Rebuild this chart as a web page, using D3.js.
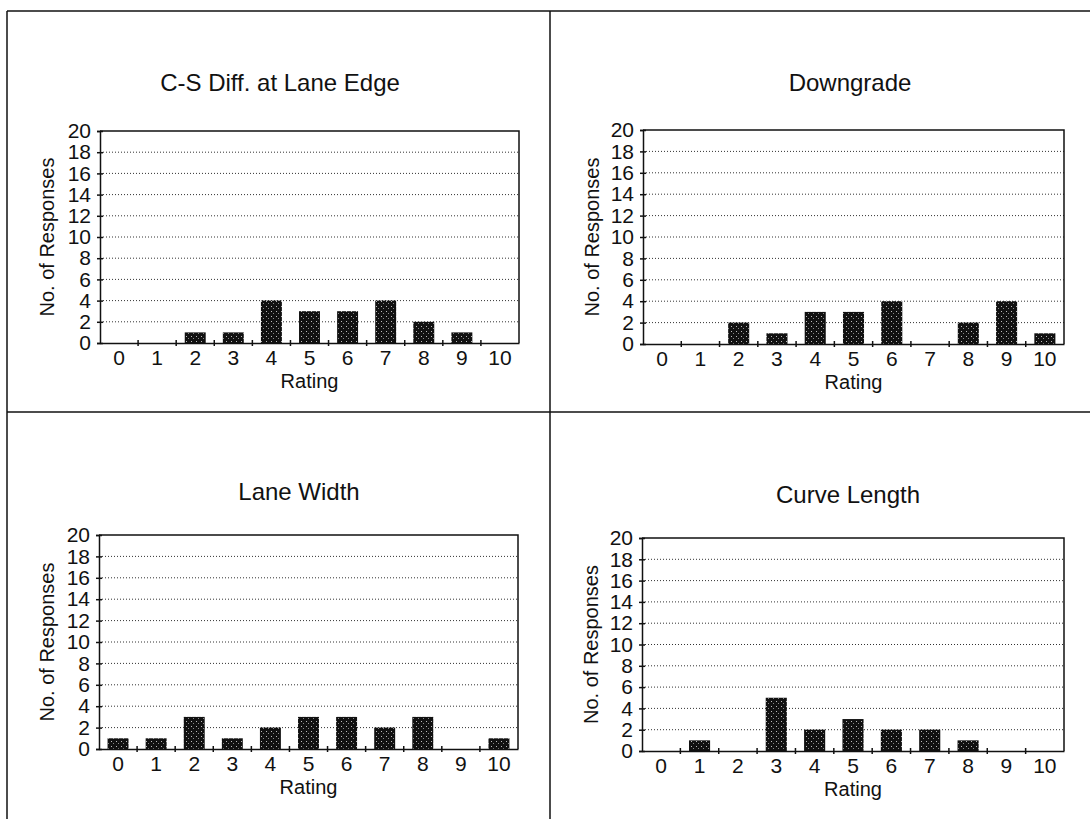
<!DOCTYPE html>
<html>
<head>
<meta charset="utf-8">
<script src="https://cdn.jsdelivr.net/npm/d3@7"></script>
<style>
  body { margin: 0; background: #fff; }
  text { font-family: "Liberation Sans", Arial, sans-serif; fill: #111; }
</style>
</head>
<body>
<script>
// data
var ratings = [0,1,2,3,4,5,6,7,8,9,10];
var yTicks = [0,2,4,6,8,10,12,14,16,18,20];
var titles = ["C-S Diff. at Lane Edge", "Downgrade", "Lane Width", "Curve Length"];
var csDiff = [0,0,1,1,4,3,3,4,2,1,0];
var downgrade = [0,0,2,1,3,3,4,0,2,4,1];
var laneWidth = [1,1,3,1,2,3,3,2,3,0,1];
var curveLength = [0,1,0,5,2,3,2,2,1,0,0];
var seriesList = [csDiff, downgrade, laneWidth, curveLength];

// layout of the four panels
var layout = [
  {x0:100, x1:519, top:131, bot:343, tx:280, ty:91, lx:47},
  {x0:643, x1:1064, top:130, bot:344, tx:850, ty:91, lx:592},
  {x0:99, x1:518, top:535, bot:749, tx:299, ty:500, lx:47},
  {x0:642, x1:1064, top:538, bot:751, tx:848, ty:503, lx:591}
];

var svg = d3.select("body").append("svg")
    .attr("width", 1090)
    .attr("height", 819);

// stipple pattern for the bars
var pat = svg.append("defs").append("pattern")
    .attr("id", "dots")
    .attr("width", 5).attr("height", 5)
    .attr("patternUnits", "userSpaceOnUse");
pat.append("rect").attr("width", 5).attr("height", 5).attr("fill", "#111");
pat.append("rect").attr("x", 1).attr("y", 1).attr("width", 1).attr("height", 1).attr("fill", "#bbb");
pat.append("rect").attr("x", 3).attr("y", 3).attr("width", 1).attr("height", 1).attr("fill", "#888");

// frame
var frame = svg.append("g").attr("stroke", "#111").attr("stroke-width", 1.5).attr("fill", "none");
frame.append("line").attr("x1", 7).attr("x2", 1090).attr("y1", 11).attr("y2", 11);
frame.append("line").attr("x1", 7).attr("x2", 7).attr("y1", 11).attr("y2", 819);
frame.append("line").attr("x1", 550).attr("x2", 550).attr("y1", 11).attr("y2", 819);
frame.append("line").attr("x1", 7).attr("x2", 1090).attr("y1", 412).attr("y2", 412);

layout.forEach(function(L, k){
    var values = seriesList[k];
    var g = svg.append("g");

    var xScale = d3.scaleBand()
        .domain(ratings)
        .range([L.x0, L.x1])
        .paddingInner(0.45)
        .paddingOuter(0.225);

    var yScale = d3.scaleLinear()
        .domain([0, 20])
        .range([L.bot, L.top]);

    // title
    g.append("text")
        .attr("x", L.tx).attr("y", L.ty)
        .attr("text-anchor", "middle")
        .style("font-size", "24px")
        .text(titles[k]);

    // dotted grid
    g.selectAll("line.grid")
        .data(yTicks.filter(function(d){ return d > 0 && d < 20; }))
        .enter().append("line")
        .attr("class", "grid")
        .attr("x1", L.x0).attr("x2", L.x1)
        .attr("y1", function(d){ return yScale(d); })
        .attr("y2", function(d){ return yScale(d); })
        .attr("stroke", "#333")
        .attr("stroke-width", 1)
        .attr("stroke-dasharray", "1,2");

    // bars
    g.selectAll("rect.bar")
        .data(values)
        .enter().append("rect")
        .attr("class", "bar")
        .attr("x", function(d, i){ return xScale(ratings[i]); })
        .attr("width", xScale.bandwidth())
        .attr("y", function(d){ return yScale(d); })
        .attr("height", function(d){ return yScale(0) - yScale(d); })
        .attr("fill", "url(#dots)");

    // plot border (top and right)
    g.append("path")
        .attr("d", "M" + L.x0 + "," + yScale(20) + "H" + L.x1 + "V" + yScale(0))
        .attr("fill", "none")
        .attr("stroke", "#111")
        .attr("stroke-width", 1.5);

    // y axis
    var yAxis = g.append("g")
        .attr("transform", "translate(" + L.x0 + ",0)")
        .call(d3.axisLeft(yScale).tickValues(yTicks).tickSize(3).tickPadding(6));
    yAxis.select(".domain").attr("stroke", "#111").attr("stroke-width", 1.5);
    yAxis.selectAll(".tick line").attr("x1", 3).attr("x2", -3).attr("stroke", "#111").attr("stroke-width", 1.5);
    yAxis.selectAll(".tick text").style("font-size", "21px").style("font-family", "Liberation Sans, Arial, sans-serif").attr("fill", "#111");

    // x axis
    var xAxis = g.append("g")
        .attr("transform", "translate(0," + L.bot + ")")
        .call(d3.axisBottom(xScale).tickSize(0).tickPadding(7));
    xAxis.select(".domain").attr("stroke", "#111").attr("stroke-width", 1.5);
    xAxis.selectAll(".tick text").style("font-size", "21px").style("font-family", "Liberation Sans, Arial, sans-serif").attr("fill", "#111");

    // tick marks between categories
    var step = xScale.step();
    g.selectAll("line.xt")
        .data(d3.range(1, ratings.length))
        .enter().append("line")
        .attr("class", "xt")
        .attr("x1", function(d){ return xScale(ratings[0]) - step * 0.225 + d * step; })
        .attr("x2", function(d){ return xScale(ratings[0]) - step * 0.225 + d * step; })
        .attr("y1", L.bot - 3).attr("y2", L.bot + 3)
        .attr("stroke", "#111").attr("stroke-width", 1.5);

    // axis labels
    g.append("text")
        .attr("x", (L.x0 + L.x1) / 2).attr("y", L.bot + 45)
        .attr("text-anchor", "middle")
        .style("font-size", "20px")
        .text("Rating");

    g.append("text")
        .attr("transform", "translate(" + (L.lx + 7) + "," + ((L.top + L.bot) / 2) + ") rotate(-90)")
        .attr("text-anchor", "middle")
        .style("font-size", "20px")
        .text("No. of Responses");
});
</script>
</body>
</html>
